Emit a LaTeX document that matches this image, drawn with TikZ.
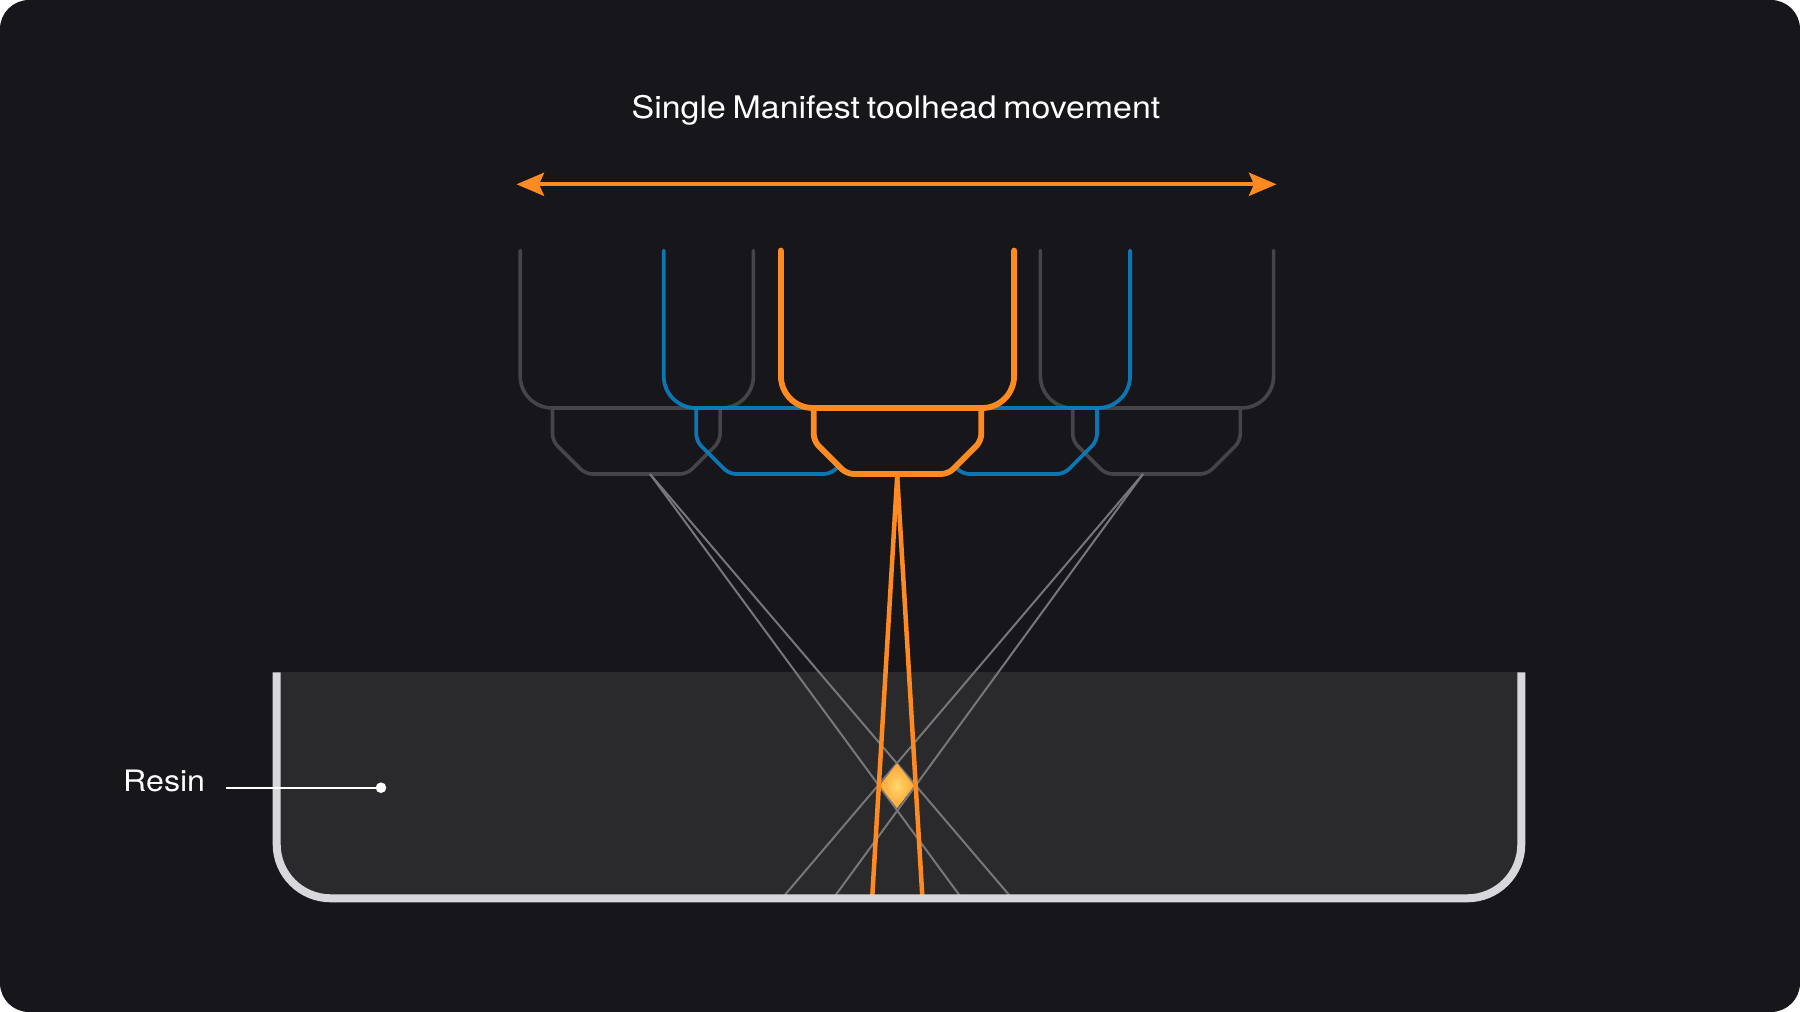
\documentclass[tikz,border=0pt]{standalone}
\usepackage{fontspec}
\usetikzlibrary{arrows.meta}
\newfontfamily\labelfont[FakeStretch=1.09,WordSpace=0.72]{TeX Gyre Heros}
\setmainfont{TeX Gyre Heros}
\definecolor{pagewhite}{HTML}{FFFFFF}
\definecolor{cardbg}{HTML}{17161B}
\definecolor{resinfill}{HTML}{2A292B}
\definecolor{tankline}{HTML}{D8D7DB}
\definecolor{headgrey}{HTML}{454448}
\definecolor{headblue}{HTML}{0A7FC0}
\definecolor{headorange}{HTML}{FF8A22}
\definecolor{beamgrey}{HTML}{77767A}
\definecolor{glowcore}{HTML}{FFD870}
\definecolor{glowmid}{HTML}{FFB848}
\definecolor{glowedge}{HTML}{FF9A2C}
\pgfdeclareradialshading{focusglow}{\pgfpoint{0bp}{0bp}}{%
  color(0bp)=(glowcore); color(15bp)=(glowmid); color(32bp)=(glowedge); color(100bp)=(glowedge)}
\tikzset{
  greyhead/.style={draw=headgrey,line width=3.6pt,line cap=round,line join=round},
  bluehead/.style={draw=headblue,line width=3.8pt,line cap=round,line join=round,draw opacity=.92},
  orangehead/.style={draw=headorange,line width=5.8pt,line cap=round,line join=round},
  greybeam/.style={draw=beamgrey,line width=2pt},
  orangebeam/.style={draw=headorange,line width=4.5pt},
  labeltext/.style={text=white,inner sep=0pt,anchor=base west},
  movearrow/.style={draw=headorange,line width=4pt,{Stealth[length=27.5pt,width=23pt,inset=5pt]}-{Stealth[length=27.5pt,width=23pt,inset=5pt]}},
}
\newcommand{\headbody}[2]{%
  \path[#2,rounded corners=32pt] ({#1-116.6},250.5) -- ({#1-116.6},408) -- ({#1+116.6},408) -- ({#1+116.6},250.5);
}
\newcommand{\headnose}[2]{%
  \path[#2,rounded corners=7pt] ({#1-83.8},408) -- ({#1-83.8},441) -- ({#1-50.8},474)
     -- ({#1+50.8},474) -- ({#1+83.8},441) -- ({#1+83.8},408);
}
\begin{document}
\begin{tikzpicture}[x=1pt,y=-1pt]
\useasboundingbox (0,0) rectangle (1800,1012);
\fill[pagewhite] (0,0) rectangle (1800,1012);
\fill[cardbg,rounded corners=29pt] (0,0) rectangle (1800,1012);
% resin
\fill[resinfill,rounded corners=54pt] (276.7,672.3) -- (276.7,898.3) -- (1521.3,898.3) -- (1521.3,672.3) -- cycle;
\fill[resinfill] (276.7,672.3) rectangle (1521.3,800);
% coordinates
\coordinate (arrowL) at (516.5,184.3);
\coordinate (arrowR) at (1276.5,184.3);
\coordinate (apexL) at (650,474);
\coordinate (apexR) at (1143,474);
\coordinate (apexC) at (897.2,476);
\coordinate (floorA) at (784,896);
\coordinate (floorB) at (835,896);
\coordinate (floorC) at (872.3,896);
\coordinate (floorD) at (922.3,896);
\coordinate (floorE) at (960,896);
\coordinate (floorF) at (1010,896);
\coordinate (leaderStart) at (226,787.7);
% grey heads
\headbody{636.8}{greyhead}
\headnose{636.3}{greyhead}
\headbody{1157}{greyhead}
\headnose{1156.5}{greyhead}
% blue heads
\headbody{780.3}{bluehead}
\headnose{780}{bluehead}
\headbody{1013.5}{bluehead}
\headnose{1013.2}{bluehead}
% grey beams
\draw[greybeam] (apexL) -- (floorE);
\draw[greybeam] (apexL) -- (floorF);
\draw[greybeam] (apexR) -- (floorA);
\draw[greybeam] (apexR) -- (floorB);
% focus spot
\path[shading=focusglow] (897,763.3) -- (914.3,785.7) -- (897,808.3) -- (879.7,785.7) -- cycle;
% orange beams
\draw[orangebeam] (apexC) -- (floorC);
\draw[orangebeam] (apexC) -- (floorD);
% orange head with opaque interior
\path[fill=cardbg,rounded corners=32pt] (780.9,244) -- (780.9,408) -- (1014.1,408) -- (1014.1,244) -- cycle;
\path[fill=cardbg,rounded corners=7pt] (813.7,408) -- (813.7,441) -- (846.7,474) -- (948.3,474) -- (981.3,441) -- (981.3,408) -- cycle;
\headbody{897.5}{orangehead}
\headnose{897.5}{orangehead}
% tank wall
\draw[draw=tankline,line width=8pt,rounded corners=54pt] (276.7,672.3) -- (276.7,898.3) -- (1521.3,898.3) -- (1521.3,672.3);
% arrow
\draw[movearrow] (arrowL) -- (arrowR);
% labels
\node[labeltext,font=\labelfont\fontsize{31.1}{36}\selectfont] (title) at (631.5,118.2) {Single Manifest toolhead movement};
\node[labeltext,font=\labelfont\fontsize{29.5}{36}\selectfont] (resinlabel) at (123,791) {Resin};
\node[circle,fill=white,inner sep=0pt,minimum size=10.6pt] (resindot) at (381,787.7) {};
\draw[white,line width=1.8pt] (leaderStart) -- (resindot);
\end{tikzpicture}
\end{document}
